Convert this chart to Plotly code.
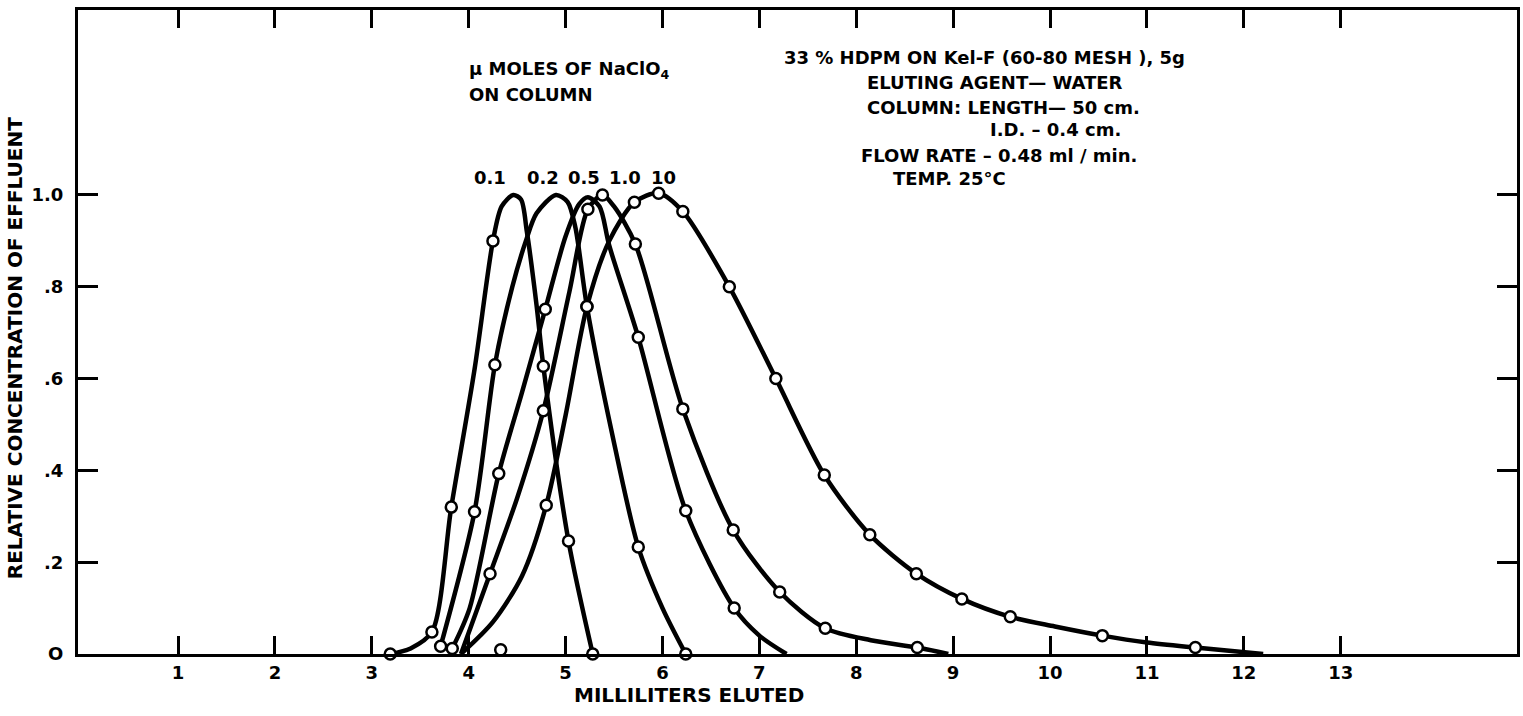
import plotly.graph_objects as go

# ---------------- data ----------------
# Traced curves (mL eluted, relative concentration)
c01_x = [3.19, 3.40, 3.62, 3.82, 4.06, 4.25, 4.34, 4.46, 4.54, 4.60, 4.70, 4.77, 5.03, 5.28]
c01_y = [0.00, 0.012, 0.048, 0.32, 0.62, 0.90, 0.975, 1.00, 0.99, 0.92, 0.76, 0.627, 0.246, 0.0]
c02_x = [3.71, 4.06, 4.27, 4.45, 4.59, 4.70, 4.90, 5.02, 5.10, 5.22, 5.48, 5.75, 6.00, 6.24]
c02_y = [0.017, 0.31, 0.63, 0.80, 0.90, 0.96, 1.0, 0.985, 0.93, 0.757, 0.48, 0.233, 0.10, 0.0]
c05_x = [3.83, 4.01, 4.31, 4.55, 4.79, 5.00, 5.14, 5.23, 5.35, 5.45, 5.75, 6.24, 6.74, 7.00, 7.28]
c05_y = [0.012, 0.10, 0.393, 0.57, 0.751, 0.91, 0.98, 0.995, 0.975, 0.89, 0.69, 0.312, 0.10, 0.04, 0.0]
c10_x = [3.92, 4.22, 4.50, 4.77, 5.04, 5.23, 5.38, 5.50, 5.72, 6.21, 6.73, 7.21, 7.68, 8.15, 8.63, 8.95]
c10_y = [0.0, 0.175, 0.34, 0.53, 0.79, 0.969, 1.0, 0.975, 0.893, 0.534, 0.27, 0.135, 0.056, 0.03, 0.014, 0.0]
c100_x = [3.92, 4.25, 4.55, 4.80, 5.00, 5.22, 5.45, 5.71, 5.96, 6.21, 6.69, 7.17, 7.67, 8.14, 8.62,
          9.09, 9.59, 10.05, 10.54, 11.00, 11.50, 12.2]
c100_y = [0.0, 0.07, 0.17, 0.324, 0.52, 0.757, 0.90, 0.984, 1.004, 0.964, 0.80, 0.60, 0.39, 0.26, 0.175,
          0.12, 0.081, 0.06, 0.04, 0.025, 0.014, 0.0]

# Measured points (open circles)
p01_x = [3.19, 3.62, 3.82, 4.25, 4.77, 5.03, 5.28]
p01_y = [0.0, 0.048, 0.32, 0.90, 0.627, 0.246, 0.0]
p02_x = [3.71, 4.06, 4.27, 5.22, 5.75, 6.24]
p02_y = [0.017, 0.31, 0.63, 0.757, 0.233, 0.0]
p05_x = [3.83, 4.31, 4.79, 5.75, 6.24, 6.74]
p05_y = [0.012, 0.393, 0.751, 0.69, 0.312, 0.10]
p10_x = [4.22, 4.77, 5.23, 5.38, 5.72, 6.21, 6.73, 7.21, 7.68, 8.63]
p10_y = [0.175, 0.53, 0.969, 1.0, 0.893, 0.534, 0.27, 0.135, 0.056, 0.014]
p100_x = [4.80, 5.22, 5.71, 5.96, 6.21, 6.69, 7.17, 7.67, 8.14, 8.62, 9.09, 9.59, 10.54, 11.50]
p100_y = [0.324, 0.757, 0.984, 1.004, 0.964, 0.80, 0.60, 0.39, 0.26, 0.175, 0.12, 0.081, 0.04, 0.014]
stray_x = [4.33]
stray_y = [0.009]

series_labels = ["0.1", "0.2", "0.5", "1.0", "10"]
label_x = [4.22, 4.77, 5.19, 5.61, 6.01]

x_ticks = list(range(1, 14))
y_ticks = [0, 0.2, 0.4, 0.6, 0.8, 1.0]
y_ticktext = ["O", ".2", ".4", ".6", ".8", "1.0"]

# ---------------- figure ----------------
FONT = "DejaVu Sans"
fig = go.Figure()

curves = [(c01_x, c01_y), (c02_x, c02_y), (c05_x, c05_y), (c10_x, c10_y), (c100_x, c100_y)]
for (cx, cy), name in zip(curves, series_labels):
    fig.add_trace(go.Scatter(x=cx, y=cy, mode="lines", name=name,
                             line=dict(color="black", width=4.5, shape="spline", smoothing=0.8),
                             cliponaxis=False, showlegend=False, hoverinfo="skip"))

points = [(p01_x, p01_y), (p02_x, p02_y), (p05_x, p05_y), (p10_x, p10_y), (p100_x, p100_y),
          (stray_x, stray_y)]
for px_, py_ in points:
    fig.add_trace(go.Scatter(x=px_, y=py_, mode="markers",
                             marker=dict(symbol="circle", size=11, color="white",
                                         line=dict(color="black", width=2.5)),
                             cliponaxis=False, showlegend=False))

tfont = dict(family=FONT, size=18, color="black", weight="bold")
afont = dict(family=FONT, size=20, color="black", weight="bold")
ann = []
for t, x in zip(series_labels, label_x):
    ann.append(dict(x=x, y=1.039, xref="x", yref="y", text=t, showarrow=False,
                    xanchor="center", yanchor="middle", font=tfont))

left_text = [
    ("\u03bc MOLES OF NaClO<sub>4</sub>", 3.98, 1.272),
    ("ON COLUMN", 3.98, 1.218),
    ("33 % HDPM ON Kel-F (60-80 MESH ), 5g", 7.23, 1.300),
    ("ELUTING AGENT\u2014 WATER", 8.09, 1.245),
    ("COLUMN: LENGTH\u2014 50 cm.", 8.09, 1.190),
    ("I.D. \u2013 0.4 cm.", 9.36, 1.142),
    ("FLOW RATE \u2013 0.48 ml / min.", 8.03, 1.087),
    ("TEMP. 25\u00b0C", 8.36, 1.037),
]
for t, x, y in left_text:
    ann.append(dict(x=x, y=y, xref="x", yref="y", text=t, showarrow=False,
                    xanchor="left", yanchor="middle", font=tfont))

ann.append(dict(x=6.27, y=-0.064, xref="x", yref="paper", text="MILLILITERS ELUTED",
                showarrow=False, xanchor="center", yanchor="middle", font=afont))
ann.append(dict(x=-0.0437, y=0.475, xref="paper", yref="paper",
                text="RELATIVE CONCENTRATION OF EFFLUENT", textangle=-90,
                showarrow=False, xanchor="center", yanchor="middle", font=afont))

fig.update_layout(
    width=1523, height=716,
    margin=dict(l=78, r=3, t=10, b=62),
    paper_bgcolor="white", plot_bgcolor="white",
    annotations=ann,
    xaxis=dict(range=[-0.033, 14.82], tickvals=x_ticks, ticks="inside", ticklen=18,
               tickwidth=3, tickcolor="black", showline=True, linewidth=3, linecolor="black",
               mirror="ticks", showgrid=False, zeroline=False,
               tickfont=dict(family=FONT, size=18, color="black", weight="bold")),
    yaxis=dict(range=[0, 1.403], tickvals=y_ticks, ticktext=y_ticktext, ticks="inside",
               ticklen=20, tickwidth=3, tickcolor="black", showline=True, linewidth=3,
               linecolor="black", mirror="ticks", showgrid=False, zeroline=False,
               ticklabelstandoff=8,
               tickfont=dict(family=FONT, size=18, color="black", weight="bold")),
)

fig.write_html("out.html")
